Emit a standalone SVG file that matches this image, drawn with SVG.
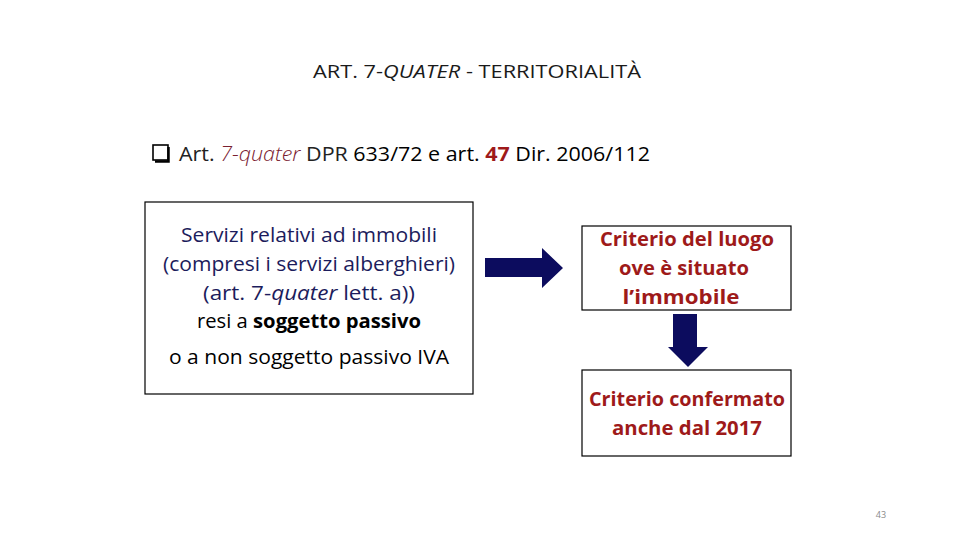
<svg xmlns="http://www.w3.org/2000/svg" width="960" height="540" viewBox="0 0 960 540">
<style>
text{font-family:"Open Sans","Liberation Sans",sans-serif;}
.box{fill:#fff;stroke:#000;stroke-width:1.2;}
.navy{fill:#1c1c5c;font-size:20px;}
.blk{fill:#000;font-size:20px;}
.red{fill:#9e1a1a;font-size:20px;font-weight:bold;}
.arrow{fill:#0c0c5e;}
</style>
<rect width="960" height="540" fill="#fff"/>
<text x="477" y="78" text-anchor="middle" font-size="19" fill="#1a1a1a" textLength="328" lengthAdjust="spacingAndGlyphs">ART. 7-<tspan font-style="italic">QUATER</tspan> - TERRITORIALITÀ</text>
<g id="bullet">
<rect x="153" y="145" width="15" height="15" fill="#fff" stroke="#000" stroke-width="1.6"/>
<path d="M168.5 147 V161.5 H155" fill="none" stroke="#000" stroke-width="2.5"/>
<text x="179" y="161" font-size="20" fill="#000" textLength="471" lengthAdjust="spacingAndGlyphs"><tspan fill="#222">Art. </tspan><tspan font-style="italic" fill="#7a2030" font-weight="300">7-quater</tspan><tspan fill="#222"> DPR </tspan>633/72 e art. <tspan font-weight="bold" fill="#9e1a1a">47</tspan> Dir. 2006/112</text>
</g>
<g id="node-servizi">
<rect class="box" x="145" y="202" width="328" height="192"/>
<text class="navy" x="309" y="242" text-anchor="middle" textLength="256" lengthAdjust="spacingAndGlyphs">Servizi relativi ad immobili</text>
<text class="navy" x="309" y="271" text-anchor="middle" textLength="292" lengthAdjust="spacingAndGlyphs">(compresi i servizi alberghieri)</text>
<text class="navy" x="309" y="300" text-anchor="middle" textLength="212" lengthAdjust="spacingAndGlyphs">(art. 7-<tspan font-style="italic">quater</tspan> lett. a))</text>
<text class="blk" x="309" y="328" text-anchor="middle" textLength="224" lengthAdjust="spacingAndGlyphs">resi a <tspan font-weight="bold">soggetto passivo</tspan></text>
<text class="blk" x="309" y="364" text-anchor="middle" textLength="280" lengthAdjust="spacingAndGlyphs">o a non soggetto passivo IVA</text>
</g>
<g id="node-criterio">
<rect class="box" x="582" y="226" width="209" height="84"/>
<text class="red" x="687" y="246" text-anchor="middle" textLength="174" lengthAdjust="spacingAndGlyphs">Criterio del luogo</text>
<text class="red" x="684" y="275" text-anchor="middle" textLength="130" lengthAdjust="spacingAndGlyphs">ove è situato</text>
<text class="red" x="681" y="304" text-anchor="middle" textLength="117" lengthAdjust="spacingAndGlyphs">l’immobile</text>
</g>
<g id="node-confermato">
<rect class="box" x="582" y="370" width="209" height="86"/>
<text class="red" x="687" y="406" text-anchor="middle" textLength="196" lengthAdjust="spacingAndGlyphs">Criterio confermato</text>
<text class="red" x="687" y="435" text-anchor="middle" textLength="150" lengthAdjust="spacingAndGlyphs">anche dal 2017</text>
</g>
<g id="connectors">
<polygon class="arrow" points="485,258 542,258 542,248 563,268 542,288 542,277 485,277"/>
<polygon class="arrow" points="673,314 697,314 697,347 708,347 688,367 668,347 673,347"/>
</g>
<text x="881" y="518" text-anchor="middle" font-size="9" fill="#8a8a8a">43</text>
</svg>
